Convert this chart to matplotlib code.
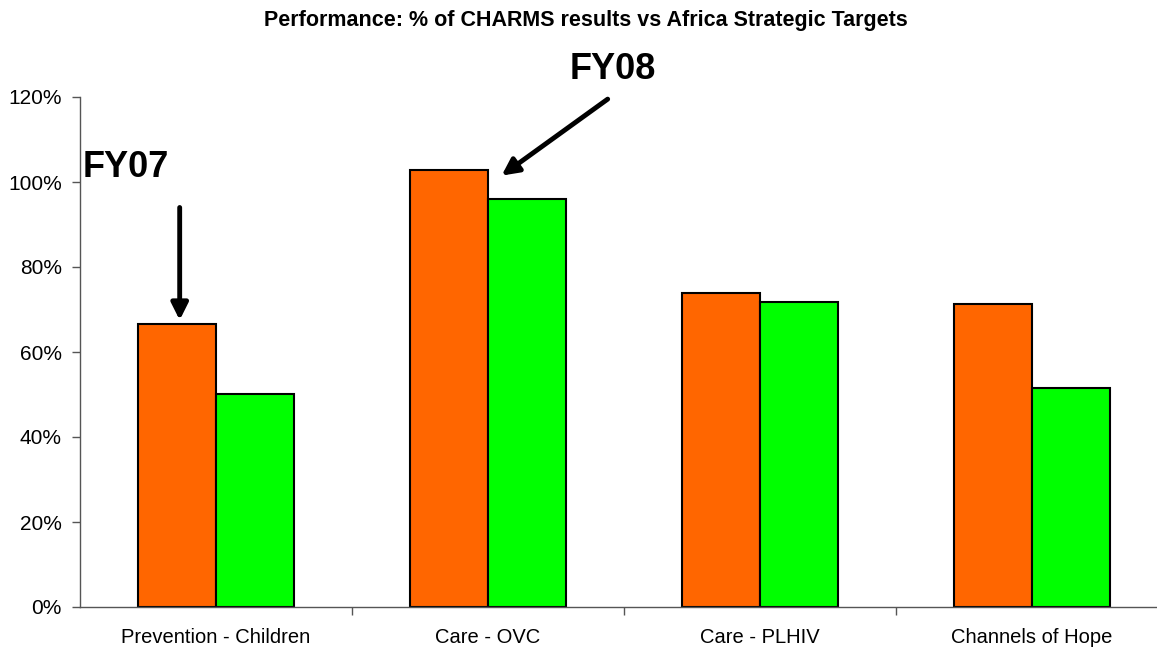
import matplotlib.pyplot as plt
import numpy as np

plt.rcParams['font.family'] = ['Liberation Sans', 'DejaVu Sans']

categories = ['Prevention - Children', 'Care - OVC', 'Care - PLHIV', 'Channels of Hope']
fy07 = [66.5, 102.8, 74.0, 71.3]
fy08 = [50.2, 96.1, 71.8, 51.6]
yticks = [0, 20, 40, 60, 80, 100, 120]

fig = plt.figure(figsize=(11.57, 6.51), dpi=100)
ax = fig.add_axes([80 / 1157, 44 / 651, 1088 / 1157, 510 / 651])

x = np.arange(len(categories)) + 0.5
w = 0.287
ax.bar(x - w / 2, fy07, w, color='#FF6600', edgecolor='black', linewidth=1.5)
ax.bar(x + w / 2, fy08, w, color='#00FF00', edgecolor='black', linewidth=1.5)

ax.set_xlim(0, 4)
ax.set_ylim(0, 120)
ax.set_yticks(yticks)
ax.set_yticklabels(['%d%%' % v for v in yticks])
ax.set_xticks(x)
ax.set_xticklabels(categories)
ax.set_xticks([1, 2, 3], minor=True)
ax.tick_params(axis='x', which='major', length=0, pad=15, labelsize=14.5)
ax.tick_params(axis='x', which='minor', length=6, width=1, color='#555555')
ax.tick_params(axis='y', length=6, width=1, color='#555555', pad=7, labelsize=15)

for s in ['top', 'right']:
    ax.spines[s].set_visible(False)
for s in ['left', 'bottom']:
    ax.spines[s].set_color('#555555')
    ax.spines[s].set_linewidth(1)

fig.text(0.506, 0.968, 'Performance: % of CHARMS results vs Africa Strategic Targets',
         ha='center', va='center', fontsize=15.5, fontweight='bold')

# annotations
ax.text(0.01, 103.5, 'FY07', fontsize=26, fontweight='bold', ha='left', va='center')
ax.annotate('', xy=(x[0] - w / 2 + 0.01, 67.5), xytext=(x[0] - w / 2 + 0.01, 94),
            arrowprops=dict(arrowstyle='-|>,head_length=1.0,head_width=0.5',
                            color='black', lw=3.5, shrinkA=0, shrinkB=0))
ax.text(1.96, 126.5, 'FY08', fontsize=26, fontweight='bold', ha='center', va='center')
ax.annotate('', xy=(1.55, 101.5), xytext=(1.94, 119.5),
            arrowprops=dict(arrowstyle='-|>,head_length=1.0,head_width=0.5',
                            color='black', lw=3.5, shrinkA=0, shrinkB=0),
            annotation_clip=False)

fig.savefig('out.png', dpi=100)
